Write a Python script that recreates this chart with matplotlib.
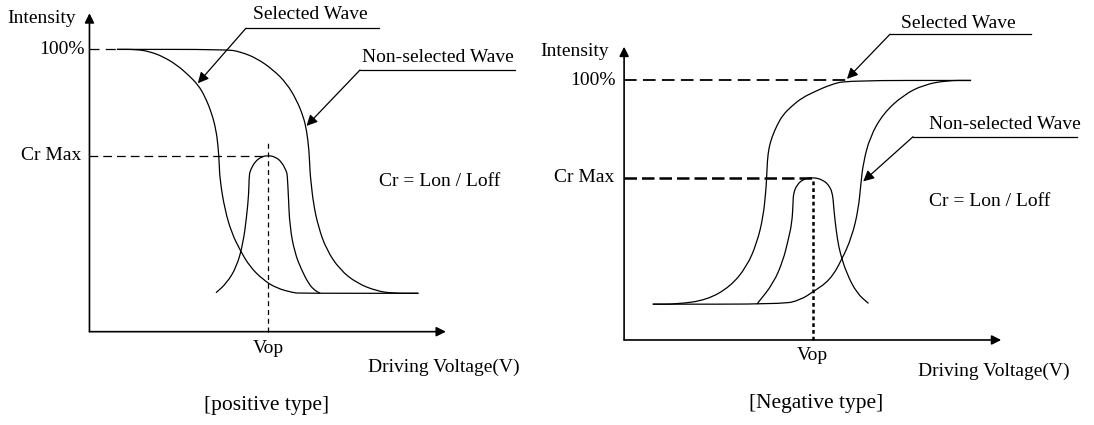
import matplotlib.pyplot as plt
from matplotlib.path import Path
from matplotlib.patches import PathPatch

plt.rcParams['font.family'] = ['Liberation Serif', 'DejaVu Serif']

# --- positive type (voltage units, intensity %) ---
pos_sel_v = [0.77, 1.32, 1.70, 2.07, 2.45, 2.77, 3.05, 3.24, 3.43, 3.55, 3.61,
             3.64, 3.66, 3.80, 3.99, 4.22, 4.50, 4.88, 5.25, 5.72, 5.90, 9.23]
pos_sel_i = [100, 100, 99.2, 97.4, 94.5, 91.0, 87.4, 83.3, 77.4, 71.5, 65.6,
             59.7, 53.8, 43.1, 35.0, 29.0, 23.0, 18.3, 15.4, 13.8, 13.6, 13.6]
pos_non_v = [0.77, 3.85, 4.22, 4.69, 5.16, 5.53, 5.81, 6.00, 6.09, 6.16, 6.19,
             6.21, 6.28, 6.42, 6.65, 7.03, 7.50, 8.06, 8.52, 9.23]
pos_non_i = [100, 100, 99.2, 96.9, 92.7, 88.0, 82.1, 76.2, 71.5, 64.4, 56.1,
             53.8, 45.5, 37.2, 29.0, 21.9, 17.2, 14.4, 13.6, 13.6]
pos_cr_v = [3.55, 3.85, 4.13, 4.31, 4.41, 4.47, 4.48, 4.52, 4.64, 4.83, 5.01,
            5.20, 5.39, 5.53, 5.55, 5.58, 5.62, 5.76, 5.95, 6.14, 6.30, 6.47]
pos_cr_i = [13.8, 17.2, 23.0, 31.3, 40.8, 49.0, 55.5, 57.3, 60.2, 62.0, 62.4,
            62.0, 60.2, 56.7, 55.5, 48.4, 37.2, 27.9, 21.9, 17.2, 14.8, 13.6]
pos_vop = 5.02
pos_crmax = 62.4

# --- negative type ---
neg_sel_v = [0.76, 1.40, 2.19, 2.81, 3.25, 3.52, 3.69, 3.76, 3.78, 3.80, 3.84,
             3.92, 4.06, 4.21, 4.45, 4.72, 5.04, 5.46, 5.90, 9.20]
neg_sel_i = [13.8, 13.8, 15.4, 20.5, 28.2, 37.3, 47.5, 57.8, 62.5, 69.4, 74.0,
             78.2, 82.9, 86.7, 90.2, 93.3, 95.6, 98.3, 100, 100]
neg_non_v = [0.76, 4.22, 4.67, 5.02, 5.46, 5.77, 6.04, 6.21, 6.28, 6.34, 6.52,
             6.88, 7.41, 7.94, 8.56, 9.20]
neg_non_i = [13.8, 13.8, 15.4, 18.6, 23.1, 30.8, 39.8, 50.1, 60.4, 68.1, 78.3,
             87.4, 94.4, 98.3, 100, 100]
neg_cr_v = [3.52, 3.96, 4.22, 4.35, 4.45, 4.48, 4.49, 4.58, 4.75, 5.00, 5.28,
            5.46, 5.53, 5.55, 5.59, 5.66, 5.73, 5.90, 6.17, 6.48]
neg_cr_i = [13.8, 21.8, 30.8, 38.5, 45.0, 52.7, 56.5, 59.7, 62.0, 62.7, 61.7,
            59.1, 55.9, 52.7, 46.2, 38.5, 33.4, 25.7, 18.0, 14.1]
neg_vop = 5.00
neg_crmax = 62.5

FS = 14
LW = 0.9


def smooth_line(ax, xs, ys):
    """polyline drawn as quadratic bezier through segment midpoints"""
    pts = list(zip(xs, ys))
    verts = [pts[0]]
    codes = [Path.MOVETO]
    mid = lambda a, b: ((a[0] + b[0]) / 2, (a[1] + b[1]) / 2)
    verts.append(mid(pts[0], pts[1]))
    codes.append(Path.LINETO)
    for k in range(1, len(pts) - 1):
        verts += [pts[k], mid(pts[k], pts[k + 1])]
        codes += [Path.CURVE3, Path.CURVE3]
    verts.append(pts[-1])
    codes.append(Path.LINETO)
    ax.add_patch(PathPatch(Path(verts, codes), fill=False, lw=LW,
                           edgecolor='black', capstyle='butt'))


def axis_arrows(ax, ytip):
    ap = dict(arrowstyle='-|>', mutation_scale=14, lw=1.2, color='black',
              shrinkA=0, shrinkB=0)
    ax.annotate('', xy=(10, 0), xytext=(0, 0), arrowprops=ap)
    ax.annotate('', xy=(0, ytip), xytext=(0, 0), arrowprops=ap)


def pointer(ax, text, tx, ty, x0, x1, yline, tip):
    ax.text(tx, ty, text, fontsize=FS, ha='left', va='center')
    ax.plot([x0, x1], [yline, yline], color='black', lw=LW)
    ax.annotate('', xy=tip, xytext=(x0, yline),
                arrowprops=dict(arrowstyle='-|>', mutation_scale=16, lw=LW,
                                color='black', shrinkA=0, shrinkB=0))


fig = plt.figure(figsize=(10.94, 4.25), dpi=100)

# left panel
ax0 = fig.add_axes([0, 0, 540 / 1094, 1])
ax0.set_xlim(-2.51, 12.64)
ax0.set_ylim(-33.06, 117.5)
ax0.axis('off')
axis_arrows(ax0, 112.8)
for v, i in [(pos_sel_v, pos_sel_i), (pos_non_v, pos_non_i), (pos_cr_v, pos_cr_i)]:
    smooth_line(ax0, v, i)
ax0.plot([0, pos_sel_v[0]], [100, 100], color='black', lw=LW, ls=(0, (8, 5)))
ax0.plot([0, pos_vop], [pos_crmax, pos_crmax], color='black', lw=LW, ls=(0, (7, 4)))
ax0.plot([pos_vop, pos_vop], [0, 66.9], color='black', lw=LW, ls=(0, (4, 3)))
ax0.text(-0.38, 111.1, 'Intensity', fontsize=FS, ha='right', va='center')
ax0.text(-0.14, 100, '100%', fontsize=FS, ha='right', va='center')
ax0.text(-0.24, pos_crmax, 'Cr Max', fontsize=FS, ha='right', va='center')
ax0.text(pos_vop, -5.8, 'Vop', fontsize=FS, ha='center', va='center')
ax0.text(7.81, -12.5, 'Driving Voltage(V)', fontsize=FS, ha='left', va='center')
ax0.text(4.98, -26, '[positive type]', fontsize=FS + 1.5, ha='center', va='center')
ax0.text(8.12, 53.2, 'Cr = Lon / Loff', fontsize=FS, ha='left', va='center')
pointer(ax0, 'Selected Wave', 4.59, 112.2, 4.39, 8.12, 107.5, (3.04, 88.0))
pointer(ax0, 'Non-selected Wave', 7.64, 97.2, 7.59, 11.93, 92.7, (6.09, 72.9))

# right panel
ax1 = fig.add_axes([540 / 1094, 0, 554 / 1094, 1])
ax1.set_xlim(-2.23, 12.46)
ax1.set_ylim(-32.76, 131.0)
ax1.axis('off')
axis_arrows(ax1, 113)
for v, i in [(neg_sel_v, neg_sel_i), (neg_non_v, neg_non_i), (neg_cr_v, neg_cr_i)]:
    smooth_line(ax1, v, i)
ax1.plot([0, 5.90], [100, 100], color='black', lw=1.3, ls=(0, (7, 3.5)))
ax1.plot([0, neg_vop], [neg_crmax, neg_crmax], color='black', lw=1.8, ls=(0, (5, 2)))
ax1.plot([neg_vop, neg_vop], [0, neg_crmax], color='black', lw=1.8, ls=(0, (1.5, 1.2)))
ax1.text(-0.40, 111.1, 'Intensity', fontsize=FS, ha='right', va='center')
ax1.text(-0.21, 100, '100%', fontsize=FS, ha='right', va='center')
ax1.text(-0.27, neg_crmax, 'Cr Max', fontsize=FS, ha='right', va='center')
ax1.text(neg_vop, -5.8, 'Vop', fontsize=FS, ha='center', va='center')
ax1.text(7.79, -12.2, 'Driving Voltage(V)', fontsize=FS, ha='left', va='center')
ax1.text(5.08, -24.3, '[Negative type]', fontsize=FS + 1.5, ha='center', va='center')
ax1.text(8.08, 53.3, 'Cr = Lon / Loff', fontsize=FS, ha='left', va='center')
pointer(ax1, 'Selected Wave', 7.33, 122.0, 7.05, 10.79, 117.8, (5.91, 100.6))
pointer(ax1, 'Non-selected Wave', 8.08, 82.9, 7.66, 12.01, 78.3, (6.34, 61.1))

fig.savefig('out.png', dpi=100)
